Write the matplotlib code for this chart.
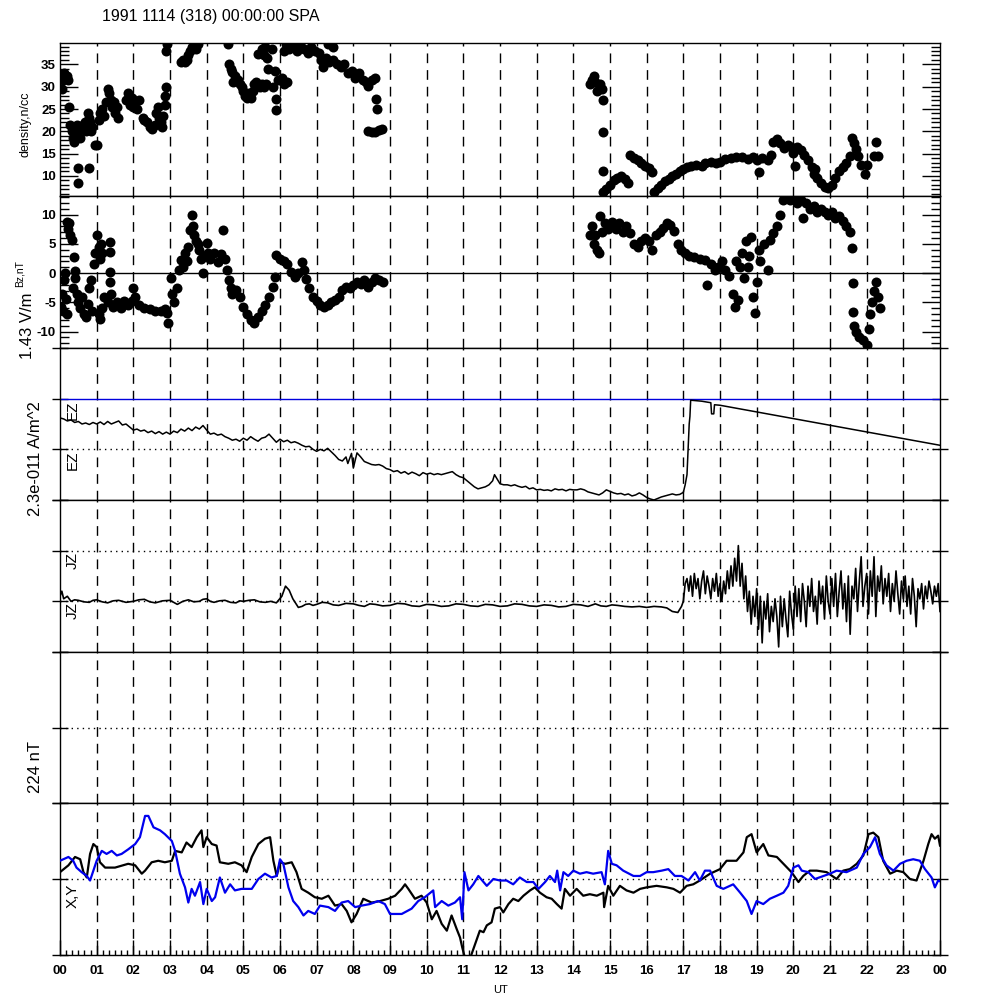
import numpy as np
import matplotlib
matplotlib.use("Agg")
import matplotlib.pyplot as plt
from matplotlib.ticker import MultipleLocator

plt.rcParams['font.family'] = ['Liberation Sans', 'DejaVu Sans']
plt.rcParams['axes.unicode_minus'] = False

# ---------------- data (hours UT, values) ----------------
title = "1991 1114 (318) 00:00:00 SPA"
hour_labels = ["%02d" % (h % 24) for h in range(25)]

density_pts = [
    (0.05, 29.5), (0.08, 31.5), (0.12, 33), (0.18, 32.5), (0.22, 31.5), (0.25, 25.5), (0.28, 21.5),
    (0.32, 20), (0.35, 18.5), (0.38, 17.5), (0.42, 19.5), (0.45, 21.5), (0.5, 20), (0.55, 18.5),
    (0.58, 21), (0.62, 21.5), (0.68, 22), (0.72, 20), (0.75, 24), (0.78, 23), (0.82, 22), (0.85, 20),
    (0.88, 21), (0.5, 11.8), (0.48, 8.5), (0.78, 11.8), (0.95, 17), (1.0, 17),
    (1.05, 22.5), (1.1, 24), (1.15, 25), (1.2, 23.5), (1.25, 26.5), (1.3, 29.5), (1.33, 28.5),
    (1.38, 27), (1.42, 25.5), (1.47, 26.5), (1.5, 24), (1.55, 25.5), (1.58, 23), (1.8, 27),
    (1.85, 28.5), (1.9, 26), (1.95, 27.5), (2.0, 25.5), (2.05, 26.5), (2.1, 25), (2.15, 27),
    (2.25, 23), (2.3, 22.5), (2.38, 22), (2.45, 21), (2.52, 20.5), (2.58, 21.5), (2.62, 24),
    (2.66, 25.5), (2.7, 23), (2.75, 22), (2.78, 21), (2.82, 23.5), (2.85, 26), (2.87, 28),
    (2.88, 30), (2.9, 38), (2.92, 39.5),
    (3.3, 35.5), (3.35, 36), (3.4, 35.5), (3.45, 36), (3.5, 37), (3.55, 38), (3.6, 39),
    (3.65, 39.5), (3.7, 38.5), (3.75, 39.5),
    (4.59, 39.6), (4.62, 35.2), (4.66, 34), (4.7, 33.2), (4.73, 31), (4.78, 32.5), (4.85, 31.5),
    (4.9, 30.5), (4.95, 30), (5.0, 29), (5.05, 28), (5.1, 27.5), (5.15, 28.5), (5.2, 27.5),
    (5.25, 29), (5.3, 30.5), (5.35, 31), (5.4, 30.5), (5.45, 30), (5.5, 30.5), (5.55, 30),
    (5.62, 30.5), (5.41, 37.4), (5.5, 38.5), (5.55, 37), (5.6, 39), (5.65, 36.5), (5.77, 38.5),
    (5.68, 33.9), (5.86, 33.5), (5.82, 30), (5.9, 27.3), (5.9, 24.7), (5.95, 31.5), (6.05, 32),
    (6.12, 30.5), (6.2, 31), (6.1, 38), (6.2, 39.5),
    (6.15, 39.5), (6.25, 38.5), (6.35, 39.5), (6.45, 38), (6.55, 39.5), (6.65, 38.5), (6.75, 37.5),
    (6.85, 39), (6.95, 38), (7.05, 37.5), (7.12, 36), (7.18, 34.5), (7.25, 36.5), (7.3, 39.5),
    (7.35, 35.5), (7.45, 36), (7.45, 39), (7.55, 35), (7.65, 34.5), (7.75, 35), (7.85, 33),
    (7.95, 33.5), (8.05, 32), (8.15, 33), (8.25, 31.5), (8.35, 31), (8.4, 30.2), (8.5, 31.5),
    (8.58, 32), (8.62, 27.3), (8.64, 25.1), (8.4, 20), (8.5, 19.8), (8.6, 19.8), (8.7, 20.2),
    (8.78, 20.5),
    (14.45, 30.5), (14.5, 31.5), (14.55, 32.4), (14.6, 31), (14.65, 29), (14.72, 30.5),
    (14.78, 29.5), (14.8, 27), (14.8, 19.8), (14.8, 11.2), (14.8, 6.4), (14.9, 7), (15.0, 8),
    (15.1, 9), (15.2, 9.5), (15.3, 10), (15.4, 9.3), (15.5, 8.5), (15.55, 14.8), (15.65, 14),
    (15.75, 13.5), (15.85, 13), (15.95, 12.2), (16.05, 11.8), (16.15, 10.8), (16.2, 6.5),
    (16.3, 7.2), (16.4, 8), (16.5, 8.8), (16.6, 9.3), (16.7, 10), (16.8, 10.5), (16.9, 11),
    (17.0, 11.5), (17.1, 12), (17.2, 12.2), (17.35, 12.5), (17.5, 12.3), (17.6, 12.8),
    (17.75, 13.2), (17.9, 12.8), (18.0, 13.2), (18.15, 13.8), (18.3, 14), (18.45, 14.2),
    (18.6, 14.3), (18.75, 13.9), (18.9, 14.3), (19.0, 13.5), (19.05, 10.9), (19.15, 14),
    (19.3, 13.5), (19.4, 14.8), (19.45, 17.5), (19.55, 18.3), (19.65, 17.3), (19.75, 16.3),
    (19.85, 17), (19.95, 16.5), (20.0, 15.2), (20.05, 12.2), (20.1, 16.5), (20.2, 15.8),
    (20.3, 14.8), (20.4, 13.5), (20.5, 12), (20.55, 10.5), (20.6, 11.5), (20.65, 9.5),
    (20.75, 8.5), (20.85, 7.5), (20.95, 7.2), (21.05, 8), (21.15, 9.5), (21.25, 11), (21.35, 12),
    (21.45, 13), (21.55, 14.5), (21.6, 18.5), (21.65, 17.3), (21.7, 16), (21.75, 14.5),
    (21.85, 12.5), (21.95, 10.5), (22.0, 12.5), (22.25, 17.6), (22.3, 14.5), (22.2, 14.5),
]

bz_pts = [
    (0.02, -5.8), (0.05, -3.5), (0.08, -6.5), (0.12, -1.2), (0.14, 0), (0.16, -4.5), (0.2, -6.9),
    (0.18, 8.8), (0.22, 7.5), (0.25, 8.5), (0.28, 6.5), (0.32, 5.6), (0.38, 2.8), (0.4, 0.3),
    (0.42, -0.8), (0.35, -2.5), (0.45, -3.5), (0.5, -5), (0.55, -6), (0.6, -4), (0.65, -6.9),
    (0.7, -7.5), (0.75, -5.2), (0.8, -2.5), (0.85, -1.2), (0.88, -6.5), (0.92, 1.5), (0.95, 3.5),
    (1.0, 6.5), (1.05, 4.5), (1.1, 2.5), (1.12, 5), (1.15, 3.4), (1.36, 5.4), (1.36, 3.6),
    (1.36, 0.2), (1.36, -1.5), (1.05, -7), (1.1, -7.8), (1.15, -6), (1.2, -4), (1.3, -5),
    (1.38, -3.5), (1.45, -5.8), (1.55, -5), (1.65, -6), (1.75, -4.8), (1.85, -5.5), (1.95, -4.8),
    (2.0, -2.6), (2.05, -4), (2.15, -5.5), (2.3, -6), (2.45, -6.2), (2.6, -6.4), (2.75, -6.5),
    (2.85, -6.2), (2.95, -8.6), (2.92, -6.8), (3.02, -0.9), (3.05, -3.5), (3.1, -5), (3.2, -2.5),
    (3.25, 0.5), (3.3, 2.2), (3.35, 1), (3.4, 3.4), (3.45, 2), (3.5, 4.5), (3.55, 7.3),
    (3.6, 9.9), (3.62, 8), (3.65, 6.5), (3.7, 5.5), (3.75, 5), (3.8, 4), (3.85, 2.5), (3.9, 0),
    (3.95, 3), (4.0, 5.1), (4.05, 3.4), (4.1, 2.5), (4.2, 3.5), (4.3, 1.9), (4.4, 3.2),
    (4.45, 7.3), (4.5, 2.5), (4.55, 0.5), (4.6, -1.2), (4.65, -2.6), (4.7, -3.5), (4.8, -2.9),
    (4.9, -4.1), (5.0, -5.8), (5.1, -6.9), (5.2, -8.0), (5.3, -8.6), (5.4, -7.5), (5.5, -6.5),
    (5.6, -5.5), (5.7, -4.1), (5.8, -2.3), (5.85, -0.6), (5.9, 3.1), (6.0, 2.5), (6.1, 2.0),
    (6.2, 1.5), (6.3, 0.2), (6.4, -0.6), (6.5, 0), (6.6, 1.9), (6.65, 0.5), (6.7, -1),
    (6.8, -2.5), (6.9, -4), (7.0, -4.8), (7.1, -5.5), (7.2, -5.8), (7.3, -5.5), (7.4, -5),
    (7.5, -4.6), (7.6, -4), (7.7, -2.9), (7.8, -2.3), (7.9, -2.6), (8.0, -2), (8.1, -1.5),
    (8.2, -1.8), (8.3, -1.2), (8.4, -2.3), (8.5, -1.5), (8.6, -0.8), (8.7, -1.2), (8.8, -1.5),
    (14.45, 6.5), (14.5, 8), (14.55, 5), (14.6, 6.5), (14.65, 4), (14.7, 3.4), (14.72, 9.7),
    (14.78, 7), (14.85, 8.5), (14.95, 7.5), (15.05, 8.8), (15.15, 7.5), (15.25, 8.5),
    (15.35, 7), (15.45, 8), (15.55, 6.8), (15.65, 5), (15.75, 4.5), (15.85, 5.5), (15.95, 6),
    (16.05, 5.5), (16.15, 4), (16.25, 6.5), (16.35, 7), (16.45, 7.8), (16.55, 8.5), (16.65, 8.2),
    (16.75, 7.2), (16.85, 5), (16.95, 4), (17.05, 3.5), (17.15, 3), (17.3, 2.8), (17.45, 2.5),
    (17.6, 2.2), (17.65, -2.1), (17.75, 1.5), (17.85, 0.5), (17.95, 1), (18.05, 2), (18.15, 0.5),
    (18.25, -0.5), (18.35, -3.5), (18.4, -5.8), (18.45, 2), (18.5, -4.6), (18.55, 1), (18.6, 3.5),
    (18.65, -0.8), (18.7, 5.5), (18.75, 1), (18.8, 3), (18.85, 6.2), (18.9, -4.1), (18.95, -6.8),
    (19.0, -1.5), (19.05, 4), (19.1, 2), (19.2, 5), (19.3, 0.5), (19.35, 5.6), (19.45, 6.8),
    (19.55, 8), (19.65, 10), (19.72, 12.5), (19.8, 13), (19.9, 12.5), (20.0, 13), (20.1, 12),
    (20.2, 12.5), (20.27, 9.5), (20.35, 12), (20.45, 11), (20.55, 11.5), (20.65, 10.5),
    (20.75, 11), (20.85, 10.5), (20.95, 10), (21.05, 10.5), (21.15, 9.5), (21.25, 9.8),
    (21.35, 9), (21.45, 8), (21.55, 7), (21.6, 4.3), (21.62, -1.7), (21.62, -6.6), (21.65, -9),
    (21.7, -10), (21.8, -11), (21.9, -11.5), (22.0, -12.3), (22.05, -9.5), (22.1, -7),
    (22.15, -5), (22.2, -3), (22.25, -1.5), (22.3, -4), (22.35, -6),
]

# EZ in units of the 1.43 V/m scale (0 = dotted midline)
ez_t = [0.0, 0.1, 0.2, 0.3, 0.4, 0.5, 0.6, 0.7, 0.8, 0.9, 1.0, 1.1, 1.2, 1.3, 1.4, 1.5, 1.6, 1.7, 1.8, 1.9,
        2.0, 2.1, 2.2, 2.3, 2.4, 2.5, 2.6, 2.7, 2.8, 2.9, 3.0, 3.1, 3.2, 3.3, 3.4, 3.5, 3.6, 3.7, 3.8, 3.9,
        4.0, 4.1, 4.2, 4.3, 4.4, 4.5, 4.6, 4.7, 4.8, 4.9, 5.0, 5.1, 5.2, 5.3, 5.4, 5.5, 5.6, 5.7, 5.8, 5.9,
        6.0, 6.1, 6.2, 6.3, 6.4, 6.5, 6.6, 6.7, 6.8, 6.9, 7.0, 7.1, 7.2, 7.3, 7.4, 7.5, 7.6, 7.7, 7.8, 7.85,
        7.95, 8.0, 8.1, 8.2, 8.3, 8.4, 8.5, 8.6, 8.7, 8.8, 8.9, 9.0, 9.1, 9.2, 9.3, 9.4, 9.5, 9.6, 9.7, 9.8,
        9.9, 10.0, 10.1, 10.2, 10.3, 10.4, 10.5, 10.6, 10.7, 10.8, 10.9, 11.0, 11.1, 11.2, 11.3, 11.4, 11.5,
        11.6, 11.7, 11.8, 11.85, 11.95, 12.0, 12.1, 12.2, 12.3, 12.4, 12.5, 12.6, 12.7, 12.8, 12.9, 13.0,
        13.1, 13.2, 13.3, 13.4, 13.5, 13.6, 13.7, 13.8, 13.9, 14.0, 14.1, 14.2, 14.3, 14.4, 14.5, 14.6,
        14.7, 14.8, 14.9, 15.0, 15.1, 15.2, 15.3, 15.4, 15.5, 15.6, 15.7, 15.8, 15.9, 16.0, 16.1, 16.2,
        16.3, 16.4, 16.5, 16.6, 16.7, 16.8, 16.9, 17.0, 17.05, 17.1, 17.13, 17.16, 17.18, 17.2, 17.5,
        17.75, 17.77, 17.83, 17.85, 18.0, 24.0]
ez_v = [0.62, 0.6, 0.56, 0.58, 0.53, 0.55, 0.5, 0.52, 0.49, 0.53, 0.5, 0.54, 0.49, 0.55, 0.5, 0.53, 0.56, 0.48, 0.5, 0.44,
        0.38, 0.4, 0.36, 0.38, 0.33, 0.36, 0.31, 0.35, 0.3, 0.34, 0.3, 0.36, 0.33, 0.4, 0.36, 0.42, 0.37, 0.44, 0.4, 0.47,
        0.38, 0.3, 0.32, 0.28, 0.3, 0.25, 0.22, 0.18, 0.2, 0.16, 0.22, 0.18, 0.25, 0.2, 0.16, 0.22, 0.24, 0.3, 0.22, 0.14,
        0.2, 0.15, 0.18, 0.13, 0.15, 0.12, 0.08, 0.05, 0.06, 0.0, -0.04, 0.0, -0.03, 0.02, -0.05, -0.12, -0.2, -0.23, -0.15, -0.28,
        -0.08, -0.37, -0.07, -0.15, -0.24, -0.27, -0.3, -0.31, -0.3, -0.33, -0.38, -0.4, -0.44, -0.42, -0.47, -0.44, -0.49, -0.45, -0.48, -0.52,
        -0.46, -0.49, -0.47, -0.5, -0.48, -0.5, -0.48, -0.46, -0.44, -0.5, -0.54, -0.56, -0.62, -0.68, -0.74, -0.78, -0.76,
        -0.74, -0.7, -0.62, -0.5, -0.62, -0.68, -0.7, -0.7, -0.72, -0.7, -0.73, -0.75, -0.73, -0.78, -0.76, -0.8,
        -0.79, -0.81, -0.8, -0.82, -0.78, -0.8, -0.79, -0.82, -0.79, -0.8, -0.8, -0.78, -0.8, -0.84, -0.86, -0.88,
        -0.9, -0.86, -0.8, -0.83, -0.86, -0.88, -0.87, -0.9, -0.88, -0.92, -0.9, -0.86, -0.9, -0.95, -0.98, -1.0,
        -0.97, -0.94, -0.92, -0.9, -0.88, -0.9, -0.89, -0.85, -0.7, -0.5, 0.0, 0.5, 0.65, 0.97, 0.95,
        0.92, 0.7, 0.7, 0.88, 0.87, 0.08]

# JZ in units of the 2.3e-011 A/m^2 scale (0 = centre dotted line)
jz_early = [
    (0.0, 0.1), (0.05, 0.2), (0.1, 0.05), (0.2, 0.1), (0.3, 0.0), (0.4, 0.03), (0.5, 0.02), (0.65, -0.01),
    (0.8, -0.02), (0.9, 0.02), (1.0, 0.03), (1.15, -0.01), (1.3, -0.03), (1.45, 0.01), (1.6, 0.02),
    (1.8, -0.02), (2.0, 0.0), (2.15, 0.03), (2.3, 0.04), (2.45, -0.01), (2.6, -0.03), (2.8, 0.01),
    (3.0, 0.02), (3.1, -0.02), (3.2, -0.06), (3.35, 0.0), (3.5, 0.03), (3.65, -0.01), (3.8, 0.0),
    (3.9, 0.04), (4.0, 0.05), (4.1, 0.0), (4.2, -0.02), (4.35, 0.01), (4.5, 0.02), (4.65, -0.02),
    (4.8, -0.03), (4.9, 0.01), (5.0, 0.0), (5.15, 0.02), (5.3, 0.03), (5.45, -0.01), (5.6, -0.02),
    (5.75, 0.0), (5.9, -0.03), (6.05, 0.1), (6.15, 0.3), (6.25, 0.22), (6.35, 0.05), (6.5, -0.12),
    (6.6, -0.1), (6.7, -0.06), (6.8, -0.05), (6.9, -0.08), (7.0, -0.06), (7.15, -0.02), (7.3, -0.03),
    (7.45, -0.07), (7.6, -0.08), (7.8, -0.04), (8.0, -0.05), (8.15, -0.08), (8.3, -0.1), (8.45, -0.05),
    (8.6, -0.06), (8.8, -0.09), (9.0, -0.08), (9.2, -0.04), (9.4, -0.05), (9.6, -0.09), (9.8, -0.1),
    (10.0, -0.06), (10.2, -0.07), (10.4, -0.1), (10.6, -0.09), (10.8, -0.05), (11.0, -0.06),
    (11.2, -0.09), (11.4, -0.1), (11.6, -0.06), (11.8, -0.07), (12.0, -0.1), (12.2, -0.09),
    (12.4, -0.05), (12.6, -0.06), (12.8, -0.09), (13.0, -0.1), (13.2, -0.07), (13.4, -0.08),
    (13.6, -0.11), (13.8, -0.1), (14.0, -0.06), (14.2, -0.07), (14.4, -0.1), (14.6, -0.05),
    (14.75, -0.09), (14.9, -0.1), (15.05, -0.07), (15.2, -0.08), (15.4, -0.1), (15.6, -0.11),
    (15.8, -0.1), (16.0, -0.12), (16.2, -0.1), (16.4, -0.11), (16.55, -0.13), (16.7, -0.2),
    (16.85, -0.22), (16.95, -0.1),
]
jz_late_start, jz_late_step = 17.0, 0.05
jz_late = [0.0, 0.35, 0.45, 0.2, 0.5, 0.1, 0.55, 0.25, 0.45, 0.05, 0.4,
           0.6, 0.15, 0.5, 0.3, 0.05, 0.45, 0.2, 0.55, 0.1, 0.35,
           0.0, 0.4, 0.15, 0.6, 0.25, 0.7, 0.3, 0.85, 0.4, 1.1,
           0.3, 0.75, 0.05, 0.5, -0.2, 0.2, -0.45, 0.1, -0.3, 0.25,
           -0.55, 0.1, -0.82, 0.0, -0.35, 0.15, -0.6, -0.1, -0.4, 0.05,
           -0.3, -0.9, 0.1, -0.5, 0.05, -0.35, -0.7, 0.2, -0.25, -0.55,
           0.3, -0.3, 0.25, -0.4, 0.35, 0.0, -0.5, 0.3, -0.1, 0.45,
           -0.2, 0.1, -0.45, 0.4, -0.05, 0.3, -0.35, 0.5, 0.0, -0.25,
           0.45, -0.1, 0.55, -0.3, 0.2, 0.6, -0.15, 0.35, -0.4, 0.5,
           -0.65, 0.3, 0.05, 0.65, -0.2, 0.4, 0.88, -0.1, 0.3, 0.55,
           -0.25, 0.6, 0.1, 0.88, -0.3, 0.5, 0.2, 0.7, -0.05, 0.45,
           0.1, 0.55, -0.2, 0.35, 0.0, 0.6, 0.15, -0.25, 0.4, 0.05,
           0.5, -0.1, 0.3, -0.25, 0.45, 0.1, -0.5, 0.25, 0.05, 0.35,
           -0.15, 0.3, 0.05, 0.4, 0.2, -0.05, 0.3, 0.1, 0.35, -0.2]

# X and Y magnetic components in units of the 224 nT scale
x_pts = [
    (0.0, 0.09), (0.23, 0.18), (0.41, 0.29), (0.55, 0.26), (0.64, 0.09), (0.73, 0.02), (0.82, 0.33),
    (0.91, 0.46), (1.0, 0.42), (1.09, 0.22), (1.23, 0.15), (1.5, 0.15), (1.86, 0.2), (2.05, 0.18),
    (2.23, 0.07), (2.32, 0.11), (2.5, 0.22), (2.68, 0.24), (2.86, 0.22), (3.05, 0.24), (3.14, 0.37),
    (3.32, 0.35), (3.45, 0.48), (3.59, 0.42), (3.73, 0.55), (3.86, 0.64), (3.91, 0.42), (4.0, 0.55),
    (4.14, 0.46), (4.27, 0.44), (4.36, 0.22), (4.59, 0.2), (4.77, 0.22), (4.95, 0.18), (5.09, 0.09),
    (5.23, 0.29), (5.41, 0.46), (5.59, 0.53), (5.73, 0.55), (5.82, 0.24), (5.91, 0.04), (6.0, 0.22),
    (6.14, 0.2), (6.32, 0.22), (6.45, 0.09), (6.59, -0.13), (6.77, -0.18), (6.95, -0.24), (7.14, -0.26),
    (7.32, -0.22), (7.5, -0.35), (7.68, -0.33), (7.82, -0.42), (7.95, -0.57), (8.09, -0.46),
    (8.27, -0.26), (8.5, -0.31), (8.73, -0.29), (8.95, -0.26), (9.14, -0.22), (9.32, -0.13),
    (9.41, -0.07), (9.5, -0.13), (9.68, -0.26), (9.86, -0.22), (10.0, -0.31), (10.14, -0.53),
    (10.27, -0.42), (10.41, -0.59), (10.55, -0.68), (10.68, -0.48), (10.82, -0.66), (10.91, -0.77),
    (10.97, -0.9), (11.05, -1.05), (11.18, -1.05), (11.32, -0.86), (11.45, -0.68), (11.55, -0.7),
    (11.64, -0.61), (11.77, -0.57), (11.86, -0.39), (12.0, -0.37), (12.09, -0.44), (12.23, -0.33),
    (12.36, -0.26), (12.5, -0.29), (12.64, -0.22), (12.82, -0.15), (12.95, -0.11), (13.09, -0.18),
    (13.27, -0.24), (13.41, -0.26), (13.55, -0.33), (13.68, -0.39), (13.77, -0.13), (13.91, -0.22),
    (14.09, -0.13), (14.27, -0.22), (14.45, -0.2), (14.64, -0.22), (14.82, -0.18), (14.84, -0.37),
    (14.95, -0.09), (15.09, -0.22), (15.27, -0.09), (15.45, -0.15), (15.64, -0.18), (15.82, -0.13),
    (16.0, -0.11), (16.27, -0.09), (16.55, -0.11), (16.73, -0.13), (16.91, -0.18), (17.09, -0.09),
    (17.27, -0.07), (17.45, -0.02), (17.73, 0.07), (18.0, 0.13), (18.18, 0.24), (18.45, 0.24),
    (18.64, 0.35), (18.73, 0.55), (18.86, 0.59), (19.0, 0.35), (19.18, 0.46), (19.32, 0.31),
    (19.55, 0.29), (19.73, 0.2), (19.95, 0.09), (20.14, -0.04), (20.27, 0.04), (20.45, 0.11),
    (20.64, 0.11), (20.91, 0.09), (21.18, 0.0), (21.36, 0.11), (21.54, 0.13), (21.73, 0.2),
    (21.91, 0.31), (22.05, 0.59), (22.18, 0.61), (22.32, 0.55), (22.45, 0.24), (22.64, 0.07),
    (22.82, 0.11), (23.0, 0.09), (23.18, 0.0), (23.36, -0.02), (23.55, 0.24), (23.68, 0.46),
    (23.77, 0.59), (23.86, 0.53), (23.95, 0.57), (24.0, 0.44),
]
y_pts = [
    (0.0, 0.24), (0.23, 0.29), (0.36, 0.24), (0.45, 0.15), (0.59, 0.09), (0.73, 0.04), (0.82, -0.02),
    (0.91, 0.11), (1.0, 0.24), (1.14, 0.37), (1.27, 0.33), (1.41, 0.37), (1.55, 0.31), (1.68, 0.33),
    (1.86, 0.39), (2.05, 0.46), (2.18, 0.55), (2.32, 0.83), (2.41, 0.83), (2.55, 0.68), (2.73, 0.64),
    (2.86, 0.59), (3.05, 0.5), (3.14, 0.37), (3.27, 0.07), (3.41, -0.11), (3.5, -0.31), (3.59, -0.13),
    (3.68, -0.22), (3.82, -0.04), (3.91, -0.33), (4.0, -0.13), (4.14, -0.29), (4.23, -0.24),
    (4.36, 0.02), (4.5, -0.18), (4.64, -0.07), (4.77, -0.15), (4.95, -0.13), (5.23, -0.13),
    (5.41, 0.0), (5.59, 0.07), (5.77, 0.02), (5.91, 0.04), (6.0, 0.26), (6.09, 0.2), (6.23, -0.11),
    (6.36, -0.29), (6.5, -0.37), (6.64, -0.48), (6.77, -0.42), (6.95, -0.46), (7.09, -0.35),
    (7.32, -0.37), (7.5, -0.42), (7.68, -0.31), (7.86, -0.29), (8.05, -0.37), (8.23, -0.35),
    (8.45, -0.33), (8.68, -0.29), (8.86, -0.33), (9.0, -0.46), (9.32, -0.46), (9.59, -0.39),
    (9.77, -0.29), (9.95, -0.24), (10.18, -0.15), (10.23, -0.37), (10.41, -0.29), (10.59, -0.35),
    (10.77, -0.31), (10.91, -0.24), (10.97, -0.53), (11.03, 0.09), (11.14, -0.15), (11.27, -0.07),
    (11.41, 0.04), (11.64, -0.09), (11.82, 0.0), (12.0, -0.02), (12.18, -0.02), (12.36, -0.07),
    (12.54, 0.02), (12.73, -0.04), (12.91, -0.04), (13.05, -0.13), (13.23, -0.04), (13.36, 0.04),
    (13.5, -0.04), (13.56, 0.11), (13.64, -0.15), (13.73, 0.09), (13.86, 0.04), (14.0, 0.11),
    (14.18, 0.07), (14.36, 0.09), (14.54, 0.07), (14.77, 0.09), (14.86, -0.07), (14.95, 0.37),
    (15.05, 0.2), (15.18, 0.18), (15.36, 0.11), (15.64, 0.04), (15.82, 0.04), (16.0, 0.09),
    (16.18, 0.09), (16.41, 0.11), (16.59, 0.13), (16.77, 0.04), (16.95, 0.04), (17.14, -0.02),
    (17.32, 0.09), (17.45, -0.02), (17.59, 0.11), (17.73, 0.11), (17.91, -0.09), (18.09, -0.13),
    (18.36, -0.07), (18.55, -0.18), (18.73, -0.29), (18.86, -0.46), (19.0, -0.29), (19.18, -0.33),
    (19.36, -0.26), (19.55, -0.22), (19.73, -0.18), (19.86, -0.09), (20.0, 0.15), (20.14, 0.18),
    (20.23, 0.11), (20.41, 0.09), (20.59, 0.0), (20.82, 0.04), (21.0, 0.07), (21.18, 0.11),
    (21.45, 0.09), (21.73, 0.15), (21.91, 0.33), (22.09, 0.42), (22.23, 0.55), (22.36, 0.33),
    (22.54, 0.18), (22.73, 0.11), (22.91, 0.2), (23.09, 0.24), (23.27, 0.26), (23.45, 0.24),
    (23.59, 0.13), (23.77, 0.02), (23.86, -0.11), (23.95, -0.02), (24.0, -0.03),
]

# ---------------- figure ----------------
fig = plt.figure(figsize=(10, 10), dpi=100)
edges_px = [43, 196, 348, 500, 652, 803, 955]
L, W = 0.06, 0.88
axes = []
for i in range(6):
    top, bot = edges_px[i], edges_px[i + 1]
    ax = fig.add_axes([L, 1 - bot / 1000.0, W, (bot - top) / 1000.0])
    ax.set_xlim(0, 24)
    for h in range(1, 24):
        ax.axvline(h, color='k', lw=1.0, ls=(0, (7, 5)), zorder=1)
    for s in ax.spines.values():
        s.set_linewidth(1.0)
    ax.tick_params(axis='x', which='both', bottom=False, top=False, labelbottom=False)
    axes.append(ax)

dotted = dict(color='k', lw=1.0, ls=(0, (1, 3)), zorder=1)

# panel 1: density
ax = axes[0]
ax.plot([p[0] for p in density_pts], [p[1] for p in density_pts], 'o', ms=7.2, color='k', mew=0, zorder=3)
ax.set_ylim(5.5, 39.8)
ax.set_yticks([10, 15, 20, 25, 30, 35])
ax.yaxis.set_minor_locator(MultipleLocator(1))

# panel 2: Bz
ax = axes[1]
ax.axhline(0, color='k', lw=1.0, zorder=2)
ax.plot([p[0] for p in bz_pts], [p[1] for p in bz_pts], 'o', ms=7.2, color='k', mew=0, zorder=3)
ax.set_ylim(-12.8, 13.2)
ax.set_yticks([-10, -5, 0, 5, 10])
ax.yaxis.set_minor_locator(MultipleLocator(1))

for ax in axes[:2]:
    ax.tick_params(axis='y', which='major', direction='in', length=13, width=1,
                   left=True, right=True, labelsize=9.5, pad=3)
    ax.tick_params(axis='y', which='minor', direction='in', length=6.5, width=1,
                   left=True, right=True)
    for lab in ax.get_yticklabels():
        lab.set_fontweight('bold')

# panel 3: EZ
ax = axes[2]
ax.set_ylim(-1, 2)
ax.axhline(1, color='#0000dd', lw=1.0, zorder=2)
ax.axhline(0, **dotted)
ax.plot(ez_t, ez_v, color='k', lw=1.1, zorder=3)
ax.set_yticks([-1, 0, 1, 2])

# panel 4: JZ
ax = axes[3]
ax.set_ylim(-1, 2)
ax.axhline(1, **dotted)
ax.axhline(0, **dotted)
jz_t = [p[0] for p in jz_early] + list(jz_late_start + jz_late_step * np.arange(len(jz_late)))
jz_v = [p[1] for p in jz_early] + jz_late
ax.plot(jz_t, jz_v, color='k', lw=1.2, zorder=3)
ax.set_yticks([-1, 0, 1, 2])

# panel 5: empty
ax = axes[4]
ax.set_ylim(-1, 1)
ax.axhline(0, **dotted)
ax.set_yticks([-1, 0, 1])

# panel 6: X, Y
ax = axes[5]
ax.set_ylim(-1, 1)
ax.axhline(0, **dotted)
ax.plot([p[0] for p in x_pts], [p[1] for p in x_pts], color='k', lw=1.6, zorder=3)
ax.plot([p[0] for p in y_pts], [p[1] for p in y_pts], color='#0000ee', lw=1.6, zorder=3)
ax.set_yticks([-1, 0, 1])

for ax in axes[2:]:
    ax.tick_params(axis='y', which='major', direction='inout', length=12, width=1,
                   left=True, right=True, labelleft=False)

ax = axes[5]
ax.set_xticks(range(25))
ax.set_xticklabels(hour_labels)
ax.set_xticks(np.arange(0, 24.01, 1 / 6.0), minor=True)
ax.tick_params(axis='x', which='major', bottom=True, direction='in', length=11, width=1,
               labelbottom=True, labelsize=9.5, pad=7)
ax.tick_params(axis='x', which='minor', bottom=True, direction='in', length=3.5, width=1)
for lab in ax.get_xticklabels():
    lab.set_fontweight('bold')

# ---------------- texts ----------------
fig.text(0.102, 1 - 0.016, title, fontsize=11.5, ha='left', va='center')
fig.text(0.026, 1 - 0.124, 'density,n/cc', rotation=90, fontsize=9, ha='center', va='center')
fig.text(0.020, 1 - 0.274, 'Bz,nT', rotation=90, fontsize=7.5, ha='center', va='center')
fig.text(0.028, 1 - 0.326, '1.43 V/m', rotation=90, fontsize=12, ha='center', va='center')
fig.text(0.035, 1 - 0.459, '2.3e-011 A/m^2', rotation=90, fontsize=12, ha='center', va='center')
fig.text(0.035, 1 - 0.767, '224 nT', rotation=90, fontsize=12, ha='center', va='center')
for label, ypx in [('EZ', 400), ('EZ', 450), ('JZ', 552), ('JZ', 602), ('X,Y', 884)]:
    fig.text(0.073, 1 - ypx / 1000.0, label, rotation=90, fontsize=11, ha='center', va='top')
fig.text(0.5, 1 - 0.990, 'UT', fontsize=8, ha='center', va='center')

fig.savefig('out.png', dpi=100)
